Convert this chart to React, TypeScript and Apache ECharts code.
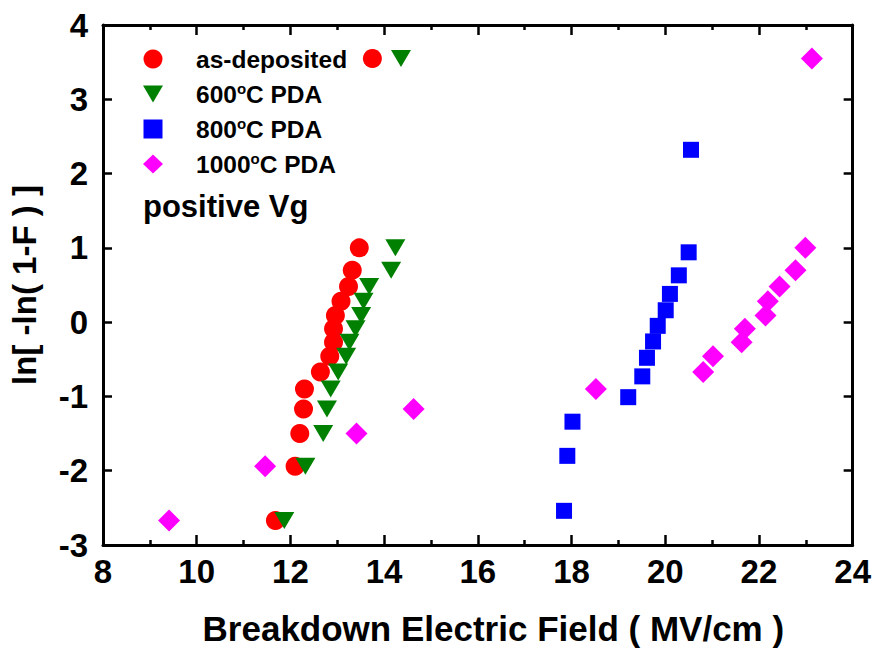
import React, { useEffect, useRef } from 'react';
import * as echarts from 'echarts';

const FONT = '"Liberation Sans", Arial, Helvetica, sans-serif';
const NARROW = '"Liberation Sans Narrow", "Arial Narrow", "Liberation Sans", Arial, sans-serif';

// Weibull plotting positions
const yValues15 = [-2.67, -1.94, -1.5, -1.17, -0.9, -0.67, -0.46, -0.27, -0.09, 0.09, 0.28, 0.48, 0.7, 1.0, 3.55];
const yValues13 = [-2.54, -1.8, -1.34, -1.01, -0.73, -0.48, -0.26, -0.05, 0.16, 0.38, 0.63, 0.94, 2.32];

const asDepositedX = [11.68, 12.1, 12.2, 12.28, 12.3, 12.64, 12.84, 12.92, 12.92, 12.96, 13.08, 13.24, 13.32, 13.47, 13.75];
const pda600X = [11.87, 12.32, 12.7, 12.78, 12.86, 13.02, 13.19, 13.26, 13.39, 13.51, 13.56, 13.68, 14.15, 14.24, 14.36];
const pda800X = [17.84, 17.91, 18.02, 19.21, 19.51, 19.61, 19.74, 19.84, 20.01, 20.1, 20.29, 20.5, 20.55];
const pda1000X = [9.41, 11.46, 13.41, 14.63, 18.52, 20.81, 21.02, 21.63, 21.7, 22.14, 22.19, 22.44, 22.78, 22.99, 23.13];

const seriesNames = ['as-deposited', '600°C PDA', '800°C PDA', '1000°C PDA'];
const seriesColors = ['#FF0000', '#008000', '#0000FF', '#FF00FF'];

const xTitle = 'Breakdown Electric Field ( MV/cm )';
const yTitle = 'ln[ -ln( 1-F ) ]';
const noteText = 'positive Vg';

const TRI = 'path://M0,0L20,0L10,17Z';

const pair = (xs: number[], ys: number[]) => xs.map((x, i) => [x, ys[i]]);

export default function App() {
  const ref = useRef<HTMLDivElement>(null);
  useEffect(() => {
    if (!ref.current) return;
    const chart = echarts.init(ref.current, undefined, { renderer: 'svg' });
    const tickLabel = { fontSize: 33, fontWeight: 'bold' as const, fontFamily: NARROW, color: '#000' };
    const line = { show: true, onZero: false, lineStyle: { color: '#000', width: 3 } };
    const xCommon = {
      type: 'value' as const,
      min: 8,
      max: 24,
      interval: 2,
      splitLine: { show: false },
      axisLine: line,
      axisTick: { show: true, inside: true, length: 10, lineStyle: { color: '#000', width: 2.5 } },
      minorTick: { show: true, splitNumber: 2, length: 5, lineStyle: { color: '#000', width: 2.5 } },
    };
    const yCommon = {
      type: 'value' as const,
      min: -3,
      max: 4,
      interval: 1,
      splitLine: { show: false },
      axisLine: line,
      axisTick: { show: true, inside: true, length: 9, lineStyle: { color: '#000', width: 2.5 } },
    };
    chart.setOption({
      animation: false,
      backgroundColor: '#fff',
      grid: { left: 103, right: 21, top: 25, bottom: 103, containLabel: false },
      xAxis: [
        {
          ...xCommon,
          position: 'bottom',
          axisLabel: { ...tickLabel, margin: 10 },
          name: xTitle,
          nameLocation: 'middle',
          nameGap: 66,
          nameTextStyle: { fontSize: 35, fontWeight: 'bold', fontFamily: FONT, color: '#000', padding: [0, 0, 0, 31] },
        },
        { ...xCommon, position: 'top', axisLabel: { show: false } },
      ],
      yAxis: [
        {
          ...yCommon,
          position: 'left',
          axisLabel: { ...tickLabel, margin: 15 },
          name: yTitle,
          nameLocation: 'middle',
          nameGap: 62,
          nameTextStyle: { fontSize: 33, fontWeight: 'bold', fontFamily: FONT, color: '#000' },
        },
        { ...yCommon, position: 'right', axisLabel: { show: false } },
      ],
      legend: {
        orient: 'vertical',
        left: 138,
        top: 41,
        itemWidth: 20,
        itemHeight: 19,
        itemGap: 9,
        data: [
          { name: seriesNames[0], icon: 'circle' },
          { name: seriesNames[1], icon: TRI },
          { name: seriesNames[2], icon: 'path://M0,0h17v17h-17z' },
          { name: seriesNames[3], icon: 'diamond' },
        ],
        formatter: (n: string) => n.replace('°', '{sup|o}'),
        textStyle: {
          fontSize: 24.5,
          fontWeight: 'bold',
          fontFamily: FONT,
          color: '#000',
          lineHeight: 26,
          padding: [0, 0, 0, 28],
          rich: {
            sup: { fontSize: 15, fontWeight: 'bold', fontFamily: FONT, color: '#000', verticalAlign: 'top', lineHeight: 10 },
          },
        },
      },
      graphic: [
        {
          type: 'text',
          left: 143,
          top: 191,
          style: { text: noteText, fontSize: 31, fontWeight: 'bold', fontFamily: FONT, fill: '#000' },
        },
      ],
      series: [
        {
          name: seriesNames[0],
          type: 'scatter',
          symbol: 'circle',
          symbolSize: 19,
          itemStyle: { color: seriesColors[0], opacity: 1 },
          data: pair(asDepositedX, yValues15),
        },
        {
          name: seriesNames[1],
          type: 'scatter',
          symbol: TRI,
          symbolSize: [20, 17],
          itemStyle: { color: seriesColors[1], opacity: 1 },
          data: pair(pda600X, yValues15),
        },
        {
          name: seriesNames[2],
          type: 'scatter',
          symbol: 'rect',
          symbolSize: 16,
          itemStyle: { color: seriesColors[2], opacity: 1 },
          data: pair(pda800X, yValues13),
        },
        {
          name: seriesNames[3],
          type: 'scatter',
          symbol: 'diamond',
          symbolSize: 22,
          itemStyle: { color: seriesColors[3], opacity: 1 },
          data: pair(pda1000X, yValues15),
        },
      ],
    });
    return () => chart.dispose();
  }, []);
  return <div ref={ref} style={{ position: 'fixed', left: 0, top: 0, width: 874, height: 651 }} />;
}
